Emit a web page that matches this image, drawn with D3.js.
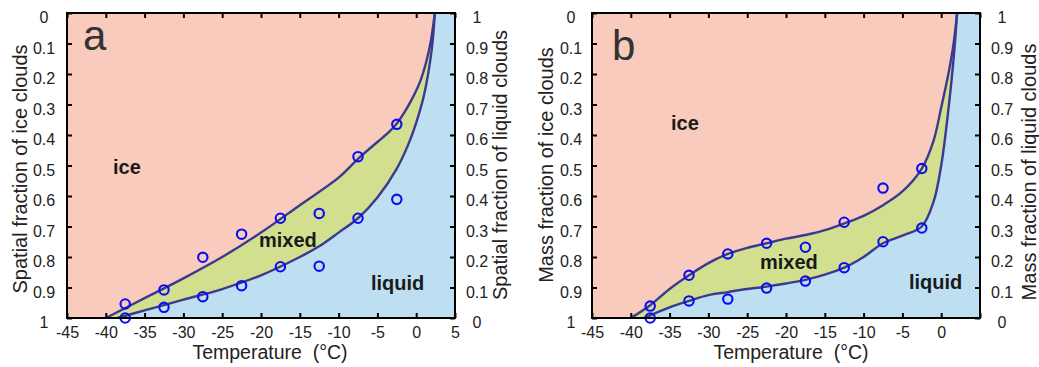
<!DOCTYPE html>
<html>
<head>
<meta charset="utf-8">
<script src="https://cdn.jsdelivr.net/npm/d3@7"></script>
<style>
  html, body { margin: 0; padding: 0; background: #ffffff; }
  svg { display: block; font-family: "Liberation Sans", Arial, Helvetica, sans-serif; }
</style>
</head>
<body>
<svg id="chart" width="1039" height="367"></svg>
<script>
// ---- data -------------------------------------------------------------
// temperature bins (°C) of the observed phase fractions
const binTemps = [-37.5, -32.5, -27.5, -22.5, -17.5, -12.5, -7.5, -2.5];

// (a) spatial fraction of ice clouds: observed upper / lower estimates
const spatialObsUpper = [0.954, 0.908, 0.801, 0.725, 0.673, 0.657, 0.471, 0.365];
const spatialObsLower = [1.000, 0.965, 0.930, 0.894, 0.832, 0.830, 0.673, 0.611];

// (b) mass fraction of ice clouds: observed upper / lower estimates
const massObsUpper = [0.961, 0.860, 0.790, 0.755, 0.768, 0.686, 0.574, 0.510];
const massObsLower = [1.000, 0.944, 0.938, 0.902, 0.879, 0.835, 0.750, 0.705];

// fitted boundaries, [temperature, ice fraction]
const spatialFitUpper = [[-40, 1], [-35, 0.935], [-30, 0.87], [-25, 0.80], [-20, 0.72],
  [-15, 0.63], [-10, 0.54], [-7.5, 0.478], [-5, 0.423], [-3.5, 0.39], [-2.5, 0.362],
  [-1.5, 0.325], [-0.5, 0.28], [0.5, 0.225], [1.3, 0.16], [1.9, 0.09], [2.4, 0]];
const spatialFitLower = [[-38.5, 1], [-35, 0.975], [-30, 0.94], [-25, 0.905], [-20, 0.86],
  [-15, 0.80], [-12.5, 0.765], [-10, 0.72], [-7.5, 0.673], [-5, 0.605], [-2.5, 0.51],
  [-1, 0.43], [0, 0.36], [1, 0.27], [2, 0.12], [2.4, 0]];
const massFitUpper = [[-40, 1], [-37.5, 0.958], [-35, 0.905], [-32.5, 0.86], [-30, 0.82],
  [-27.5, 0.79], [-25, 0.77], [-22.5, 0.755], [-20, 0.74], [-17.5, 0.728], [-15, 0.712],
  [-12.5, 0.69], [-10, 0.665], [-7.5, 0.63], [-5, 0.585], [-2.5, 0.51], [-1, 0.42],
  [0, 0.31], [1, 0.19], [1.6, 0.1], [2.05, 0]];
const massFitLower = [[-38.3, 1], [-35, 0.965], [-32.5, 0.944], [-30, 0.925], [-27.5, 0.915],
  [-25, 0.905], [-22.5, 0.897], [-20, 0.887], [-17.5, 0.875], [-15, 0.858], [-12.5, 0.835],
  [-10, 0.80], [-7.5, 0.755], [-5, 0.73], [-2.5, 0.70], [-1, 0.62], [0, 0.5], [1, 0.3],
  [1.7, 0.12], [2.05, 0]];

// axis ticks
const tempTicksA = [-45, -40, -35, -30, -25, -20, -15, -10, -5, 0, 5];
const tempTicksB = [-45, -40, -35, -30, -25, -20, -15, -10, -5, 0];
const tempTickMarks = [-45, -40, -35, -30, -25, -20, -15, -10, -5, 0, 5];
const fractionTicks = [0, 0.1, 0.2, 0.3, 0.4, 0.5, 0.6, 0.7, 0.8, 0.9, 1];

// ---- styling ----------------------------------------------------------
const COL_ICE = "#f8cbbc";
const COL_MIX = "#d2df8f";
const COL_LIQ = "#bedff2";
const COL_FIT = "#3b3a8e";
const COL_OBS = "#0c0cf0";
const COL_TXT = "#1a1a1a";

const panels = [
  {
    id: "a", left: 67, right: 455, top: 13, bottom: 318,
    upperObs: spatialObsUpper, lowerObs: spatialObsLower,
    upperFit: spatialFitUpper, lowerFit: spatialFitLower,
    tempLabels: tempTicksA,
    leftTitle: "Spatial fraction of ice clouds",
    rightTitle: "Spatial fraction of liquid clouds",
    leftLabelX: 44, rightLabelX: 477,
    leftTitle_xy: [27, 169], rightTitle_xy: [507, 165],
    xTitle_x: 270,
    letter_xy: [83, 50],
    ice_xy: [113, 167], mixed_xy: [259, 240], liquid_xy: [371, 283]
  },
  {
    id: "b", left: 592, right: 980, top: 13, bottom: 318,
    upperObs: massObsUpper, lowerObs: massObsLower,
    upperFit: massFitUpper, lowerFit: massFitLower,
    tempLabels: tempTicksB,
    leftTitle: "Mass fraction of ice clouds",
    rightTitle: "Mass fraction of liquid clouds",
    leftLabelX: 571, rightLabelX: 1002,
    leftTitle_xy: [553, 165], rightTitle_xy: [1036, 172],
    xTitle_x: 791,
    letter_xy: [612, 60],
    ice_xy: [671, 123], mixed_xy: [760, 262], liquid_xy: [909, 282]
  }
];

const svg = d3.select("#chart");

panels.forEach(p => {
  const x = d3.scaleLinear().domain([-45, 5]).range([p.left, p.right]);
  const yIce = d3.scaleLinear().domain([0, 1]).range([p.top, p.bottom]);
  const yLiq = d3.scaleLinear().domain([1, 0]).range([p.top, p.bottom]);

  const g = svg.append("g");
  const clipId = "clip-" + p.id;
  g.append("clipPath").attr("id", clipId)
    .append("rect")
    .attr("x", p.left).attr("y", p.top)
    .attr("width", p.right - p.left).attr("height", p.bottom - p.top);

  const plot = g.append("g").attr("clip-path", `url(#${clipId})`);

  // liquid background
  plot.append("rect")
    .attr("x", p.left).attr("y", p.top)
    .attr("width", p.right - p.left).attr("height", p.bottom - p.top)
    .attr("fill", COL_LIQ);

  const curve = d3.curveCatmullRom.alpha(0.5);
  const regionLeftOf = d3.area()
    .curve(curve)
    .y(d => yIce(d[1]))
    .x0(x(-45) - 2)
    .x1(d => x(d[0]));

  const ascending = arr => arr.slice().sort((a, b) => a[1] - b[1]);

  // mixed band (everything left of the lower boundary), then ice on top
  plot.append("path").attr("d", regionLeftOf(ascending(p.lowerFit))).attr("fill", COL_MIX);
  plot.append("path").attr("d", regionLeftOf(ascending(p.upperFit))).attr("fill", COL_ICE);

  const line = d3.line().curve(curve).x(d => x(d[0])).y(d => yIce(d[1]));
  [p.upperFit, p.lowerFit].forEach(fit => {
    plot.append("path")
      .attr("d", line(fit))
      .attr("fill", "none")
      .attr("stroke", COL_FIT)
      .attr("stroke-width", 2.4)
      .attr("stroke-linejoin", "round");
  });

  // observed values
  [p.upperObs, p.lowerObs].forEach(obs => {
    g.selectAll(null)
      .data(binTemps.map((t, i) => [t, obs[i]]))
      .join("circle")
      .attr("cx", d => x(d[0]))
      .attr("cy", d => yIce(d[1]))
      .attr("r", 4.7)
      .attr("fill", "none")
      .attr("stroke", COL_OBS)
      .attr("stroke-width", 2.1);
  });

  // axes: inward ticks on all four sides
  const tickStyle = sel => {
    sel.select(".domain").remove();
    sel.selectAll(".tick line").attr("stroke", "#000").attr("stroke-width", 2);
    sel.selectAll(".tick text")
      .attr("fill", "#222")
      .style("font-size", "16px");
  };

  const bottom = g.append("g")
    .attr("transform", `translate(0,${p.bottom})`)
    .call(d3.axisBottom(x).tickValues(tempTickMarks).tickSize(-5).tickPadding(0)
      .tickFormat(d => p.tempLabels.includes(d) ? String(d) : ""))
    .call(tickStyle);
  bottom.selectAll(".tick text")
    .attr("y", 14)
    .attr("dy", null)
    .attr("dominant-baseline", "central");

  g.append("g")
    .attr("transform", `translate(0,${p.top})`)
    .call(d3.axisTop(x).tickValues(tempTickMarks).tickSize(-5).tickFormat(""))
    .call(tickStyle);

  const leftAx = g.append("g")
    .attr("transform", `translate(${p.left},0)`)
    .call(d3.axisLeft(yIce).tickValues(fractionTicks).tickSize(-5).tickFormat(d => String(d)))
    .call(tickStyle);
  leftAx.selectAll(".tick text")
    .attr("x", p.leftLabelX - p.left)
    .attr("y", 4)
    .attr("dy", null)
    .attr("dominant-baseline", "central")
    .attr("text-anchor", "middle");

  const rightAx = g.append("g")
    .attr("transform", `translate(${p.right},0)`)
    .call(d3.axisRight(yLiq).tickValues(fractionTicks).tickSize(-5).tickFormat(d => String(d)))
    .call(tickStyle);
  rightAx.selectAll(".tick text")
    .attr("x", p.rightLabelX - p.right)
    .attr("y", 4)
    .attr("dy", null)
    .attr("dominant-baseline", "central")
    .attr("text-anchor", "middle");

  // frame
  g.append("rect")
    .attr("x", p.left).attr("y", p.top)
    .attr("width", p.right - p.left).attr("height", p.bottom - p.top)
    .attr("fill", "none").attr("stroke", "#000").attr("stroke-width", 2);

  // titles
  g.append("text")
    .attr("x", p.xTitle_x).attr("y", 359)
    .attr("text-anchor", "middle")
    .attr("fill", "#222")
    .style("font-size", "19.5px")
    .text("Temperature\u00a0 (°C)");

  g.append("text")
    .attr("transform", `translate(${p.leftTitle_xy[0]},${p.leftTitle_xy[1]}) rotate(-90)`)
    .attr("text-anchor", "middle")
    .attr("fill", "#222")
    .style("font-size", "20px")
    .text(p.leftTitle);

  g.append("text")
    .attr("transform", `translate(${p.rightTitle_xy[0]},${p.rightTitle_xy[1]}) rotate(-90)`)
    .attr("text-anchor", "middle")
    .attr("fill", "#222")
    .style("font-size", "20px")
    .text(p.rightTitle);

  // panel letter
  g.append("text")
    .attr("x", p.letter_xy[0]).attr("y", p.letter_xy[1])
    .attr("fill", "#333")
    .style("font-size", "42px")
    .text(p.id);

  // region labels
  [["ice", p.ice_xy], ["mixed", p.mixed_xy], ["liquid", p.liquid_xy]].forEach(([t, xy]) => {
    g.append("text")
      .attr("x", xy[0]).attr("y", xy[1])
      .attr("dominant-baseline", "central")
      .attr("fill", COL_TXT)
      .style("font-size", "20px")
      .style("font-weight", "bold")
      .text(t);
  });
});
</script>
</body>
</html>
